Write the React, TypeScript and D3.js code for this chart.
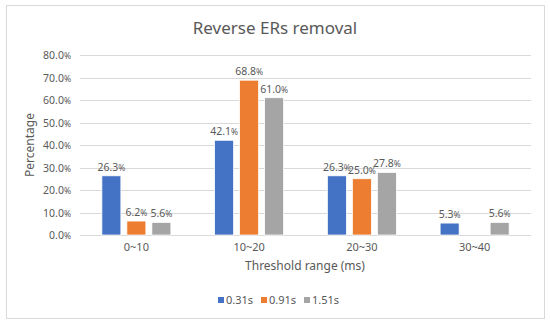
import React from 'react'
import * as d3 from 'd3'

const categories = ['0~10', '10~20', '20~30', '30~40']
const seriesNames = ['0.31s', '0.91s', '1.51s']
const s031 = [26.3, 42.1, 26.3, 5.3]
const s091 = [6.2, 68.8, 25.0, null]
const s151 = [5.6, 61.0, 27.8, 5.6]
const yTicks = [0, 10, 20, 30, 40, 50, 60, 70, 80]
const colors = ['#4472C4', '#ED7D31', '#A5A5A5']

const W = 550
const H = 326
const font = '"Noto Sans", "DejaVu Sans", sans-serif'
const textColor = '#595959'

// numbers with a narrow percent sign, like the original
function Pct({ v }: { v: number }) {
  return <>{v.toFixed(1)}<tspan fontSize={8.5}>%</tspan></>
}

export default function App() {
  const series = [s031, s091, s151]
  const x = d3.scaleBand().domain(categories).range([80, 531]).paddingInner(0).paddingOuter(0)
  const inner = d3.scaleBand().domain(seriesNames).range([0, 69]).paddingInner(0.24)
  const y = d3.scaleLinear().domain([0, 80]).range([235, 55])
  const off = (x.bandwidth() - 69) / 2

  return (
    <svg width={W} height={H} style={{ position: 'absolute', left: 0, top: 0 }} fontFamily={font}>
      <rect x={0} y={0} width={W} height={H} fill='#fff' />
      <rect x={6.5} y={5.5} width={538} height={313} fill='#fff' stroke='#D9D9D9' />
      <text x={275} y={34} textAnchor='middle' fontSize={17} fill={textColor}>Reverse ERs removal</text>
      {yTicks.map(t => (
        <g key={t}>
          <line x1={80} x2={531} y1={Math.round(y(t)) + 0.5} y2={Math.round(y(t)) + 0.5} stroke='#D9D9D9' />
          <text x={71} y={y(t) + 4} textAnchor='end' fontSize={10.5} fill={textColor}><Pct v={t} /></text>
        </g>
      ))}
      <text transform={`translate(34,145) rotate(-90)`} textAnchor='middle' fontSize={12} fill={textColor}>Percentage</text>
      {categories.map((c, i) => (
        <g key={c}>
          {series.map((s, j) => {
            const v = s[i]
            if (v == null) return null
            const bx = (x(c) as number) + off + (inner(seriesNames[j]) as number)
            return (
              <g key={j}>
                <rect x={bx} y={y(v)} width={inner.bandwidth()} height={y(0) - y(v)} fill={colors[j]} stroke='#fff' strokeWidth={0.75} />
                <text x={bx + inner.bandwidth() / 2} y={y(v) - 5} textAnchor='middle' fontSize={10.5} fill={textColor}><Pct v={v} /></text>
              </g>
            )
          })}
          <text x={(x(c) as number) + x.bandwidth() / 2} y={251} textAnchor='middle' fontSize={11} fill={textColor}>{c}</text>
        </g>
      ))}
      <text x={305} y={270} textAnchor='middle' fontSize={12} fill={textColor}>Threshold range (ms)</text>
      {seriesNames.map((n, j) => (
        <g key={n} transform={`translate(${218 + j * 43},0)`}>
          <rect x={0} y={297} width={6} height={6} fill={colors[j]} />
          <text x={8} y={304} fontSize={11} fill={textColor}>{n}</text>
        </g>
      ))}
    </svg>
  )
}
